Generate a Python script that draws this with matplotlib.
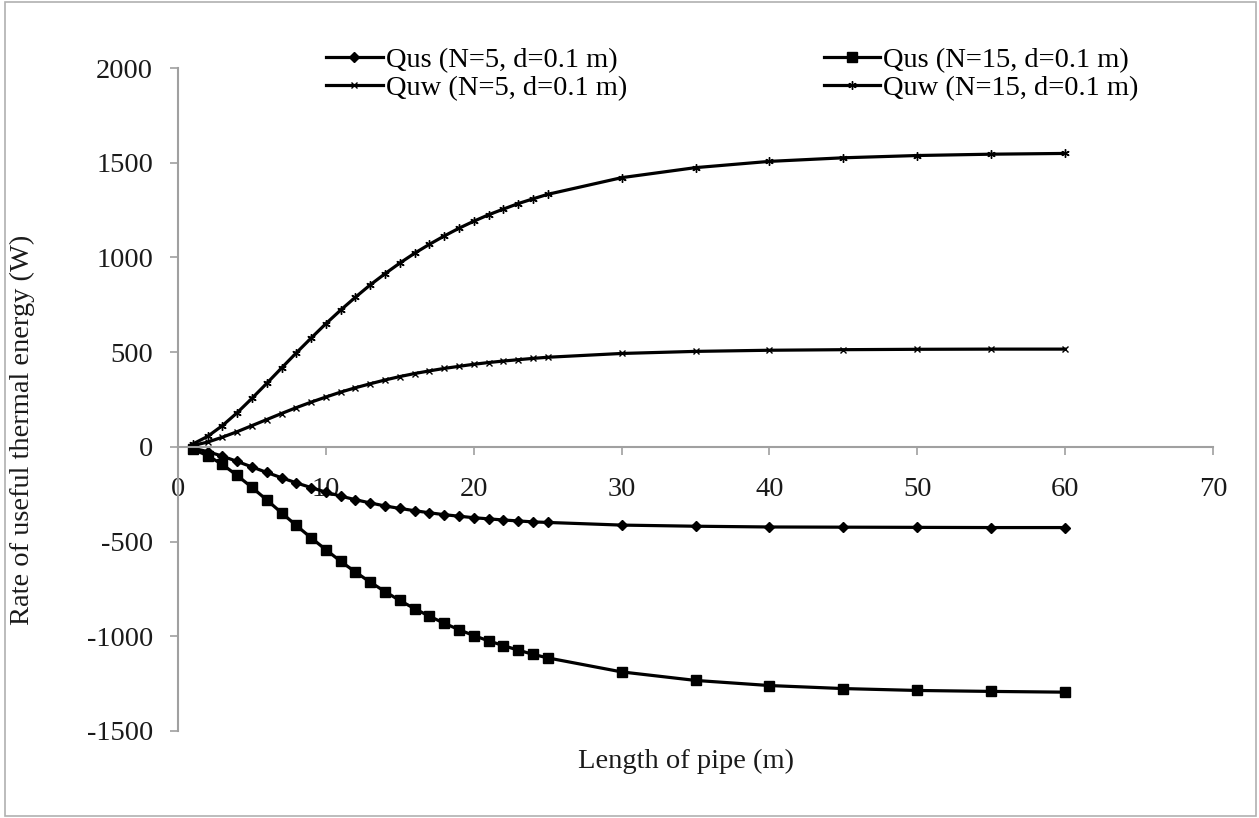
import numpy as np
import matplotlib
matplotlib.use("Agg")
from matplotlib import pyplot as plt
from matplotlib.patches import Rectangle

plt.rcParams['font.family'] = ['Liberation Serif', 'DejaVu Serif']
plt.rcParams['axes.unicode_minus'] = False

# pipe length (m)
length = [1, 2, 3, 4, 5, 6, 7, 8, 9, 10, 11, 12, 13, 14, 15, 16, 17, 18, 19, 20,
          21, 22, 23, 24, 25, 30, 35, 40, 45, 50, 55, 60]

# rate of useful thermal energy (W)
qus_n5 = [-7, -25, -49, -77, -106, -135, -163, -190, -215, -239, -260, -279, -296,
          -312, -325, -337, -348, -358, -366, -374, -380, -386, -391, -396, -399,
          -413, -419, -423, -424, -425, -426, -426]
qus_n15 = [-13, -46, -93, -151, -214, -280, -348, -415, -480, -543, -604, -661, -714,
           -764, -811, -854, -894, -931, -965, -996, -1024, -1049, -1073, -1095, -1114,
           -1188, -1233, -1260, -1276, -1286, -1291, -1295]
quw_n5 = [7, 25, 51, 80, 112, 144, 176, 207, 236, 263, 289, 312, 333, 353, 371, 387,
          401, 414, 425, 436, 445, 453, 460, 467, 473, 493, 504, 510, 513, 515, 516, 516]
quw_n15 = [15, 55, 112, 180, 256, 335, 416, 496, 574, 650, 722, 790, 855, 914, 970,
           1022, 1069, 1113, 1154, 1191, 1225, 1255, 1284, 1309, 1333, 1421, 1474,
           1507, 1526, 1538, 1545, 1549]

labels = ["Qus (N=5, d=0.1 m)", "Quw (N=5, d=0.1 m)",
          "Qus (N=15, d=0.1 m)", "Quw (N=15, d=0.1 m)"]

W, H = 1259, 818
fig = plt.figure(figsize=(W / 100, H / 100), dpi=100)
ax = fig.add_axes([178 / W, 1 - 731 / H, (1213 - 178) / W, (731 - 68) / H])

grey = '#a0a0a0'
fs = 20.5
lw = 2.3

l1, = ax.plot(length, qus_n5, color='black', lw=lw, marker='D', ms=5, mec='black')
l2, = ax.plot(length, quw_n5, color='black', lw=lw, marker='x', ms=5, mew=1.0)
l3, = ax.plot(length, qus_n15, color='black', lw=lw, marker='s', ms=7, mec='black')
l4, = ax.plot(length, quw_n15, color='black', lw=lw, marker=(6, 2, 0), ms=6, mew=1.0)

ax.set_xlim(0, 70)
ax.set_ylim(-1500, 2000)
ax.set_xticks(np.arange(0, 71, 10))
ax.set_yticks(np.arange(-1500, 2001, 500))

ax.spines['top'].set_visible(False)
ax.spines['right'].set_visible(False)
ax.spines['bottom'].set_position(('data', 0))
for s in ['left', 'bottom']:
    ax.spines[s].set_color(grey)
    ax.spines[s].set_linewidth(1.5)

ax.tick_params(axis='both', colors=grey, labelcolor='#1a1a1a', labelsize=fs,
               direction='out', length=6, width=1.2)
ax.tick_params(axis='x', pad=16)
ax.tick_params(axis='y', pad=12)

ax.set_xlabel("Length of pipe (m)", fontsize=fs, color='#1a1a1a')
ax.xaxis.set_label_coords((686 - 178) / 1035, (731 - 749) / 663)
ax.set_ylabel("Rate of useful thermal energy (W)", fontsize=fs, color='#1a1a1a')
ax.yaxis.set_label_coords((35 - 178) / 1035, (731 - 430) / 663)

leg = fig.legend([l1, l2, l3, l4], labels, ncol=2, loc='upper left',
                 bbox_to_anchor=(326 / W, 1 - 47 / H), frameon=False,
                 fontsize=fs, handlelength=2.0, handletextpad=0.1,
                 columnspacing=6.9, labelspacing=0.08, borderpad=0,
                 borderaxespad=0)

fig.patches.append(Rectangle((0.004, 0.002), 0.994, 0.996, transform=fig.transFigure,
                             fill=False, edgecolor='#b0b0b0', lw=1.2))

fig.savefig("out.png", dpi=100)
